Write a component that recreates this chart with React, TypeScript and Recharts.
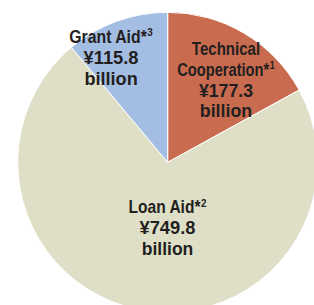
import React from 'react';
import { PieChart, Pie, Cell } from 'recharts';

const categories = ['Technical Cooperation', 'Loan Aid', 'Grant Aid'];
const values = [177.3, 749.8, 115.8];
const noteMarks = ['1', '2', '3'];
const nameLines = [['Technical', 'Cooperation*'], ['Loan Aid*'], ['Grant Aid*']];
const valueLabels = ['¥177.3', '¥749.8', '¥115.8'];
const unitLabel = 'billion';

const COLORS = ['#c86b4f', '#dfdfc7', '#a4bde3'];
const TEXT = '#231f20';
const FONT = '"Liberation Sans", Arial, sans-serif';

const LAYOUT = [
  { rFrac: 0.814, shift: -2.1, nameW: [68.3, 92], supW: 5, valueW: 54, unitW: 52.3 },
  { rFrac: 0.34, shift: -10.4, nameW: [72], supW: 5.5, valueW: 56, unitW: 51.6 },
  { rFrac: 0.881, shift: -5.4, nameW: [77.5], supW: 5.5, valueW: 55, unitW: 53.3 },
];

const data = categories.map((name, i) => ({ name, value: values[i] }));

const LINE = 20.8;

function renderLabel(props: any) {
  const { cx, cy, midAngle, outerRadius, index } = props;
  const L = LAYOUT[index];
  const fromTop = ((90 - midAngle + L.shift) * Math.PI) / 180;
  const r = outerRadius * L.rFrac;
  const x = cx + r * Math.sin(fromTop);
  const y0 = cy - r * Math.cos(fromTop);
  const names = nameLines[index];
  const els: React.ReactNode[] = [];
  const common = {
    fill: TEXT,
    fontFamily: FONT,
    fontSize: 18.5,
    fontWeight: 'bold' as any,
    lengthAdjust: 'spacingAndGlyphs' as any,
  };
  names.forEach((n, li) => {
    const isLast = li === names.length - 1;
    const w = L.nameW[li];
    const total = w + (isLast ? L.supW + 0.5 : 0);
    const left = x - total / 2;
    const y = y0 + li * LINE;
    if (isLast) {
      els.push(
        <text key={'n' + li} x={left} y={y} textAnchor="start" {...common}>
          <tspan textLength={w} lengthAdjust="spacingAndGlyphs">{n}</tspan>
          <tspan
            x={left + w + 0.5}
            dy={-6.5}
            fontSize={10.5}
            textLength={L.supW}
            lengthAdjust="spacingAndGlyphs"
          >
            {noteMarks[index]}
          </tspan>
        </text>
      );
    } else {
      els.push(
        <text key={'n' + li} x={left} y={y} textAnchor="start" textLength={w} {...common}>
          {n}
        </text>
      );
    }
  });
  const vy = y0 + names.length * LINE;
  els.push(
    <text key="v" x={x - L.valueW / 2} y={vy} textAnchor="start" textLength={L.valueW} {...common}>
      {valueLabels[index]}
    </text>
  );
  els.push(
    <text key="u" x={x - L.unitW / 2} y={vy + LINE} textAnchor="start" textLength={L.unitW} {...common}>
      {unitLabel}
    </text>
  );
  return <g key={'lbl' + index}>{els}</g>;
}

export default function App() {
  return (
    <div style={{ position: 'absolute', left: 0, top: 0, width: 314, height: 305, background: '#fff', overflow: 'hidden' }}>
      <PieChart width={314} height={305} margin={{ top: 0, right: 0, bottom: 0, left: 0 }}>
        <Pie
          data={data}
          dataKey="value"
          nameKey="name"
          cx={167.7}
          cy={162.3}
          outerRadius={150}
          innerRadius={0}
          startAngle={90}
          endAngle={-270}
          stroke="#ffffff"
          strokeWidth={1}
          label={renderLabel}
          labelLine={false}
          isAnimationActive={false}
        >
          {data.map((d, i) => (
            <Cell key={d.name} fill={COLORS[i]} />
          ))}
        </Pie>
      </PieChart>
    </div>
  );
}
